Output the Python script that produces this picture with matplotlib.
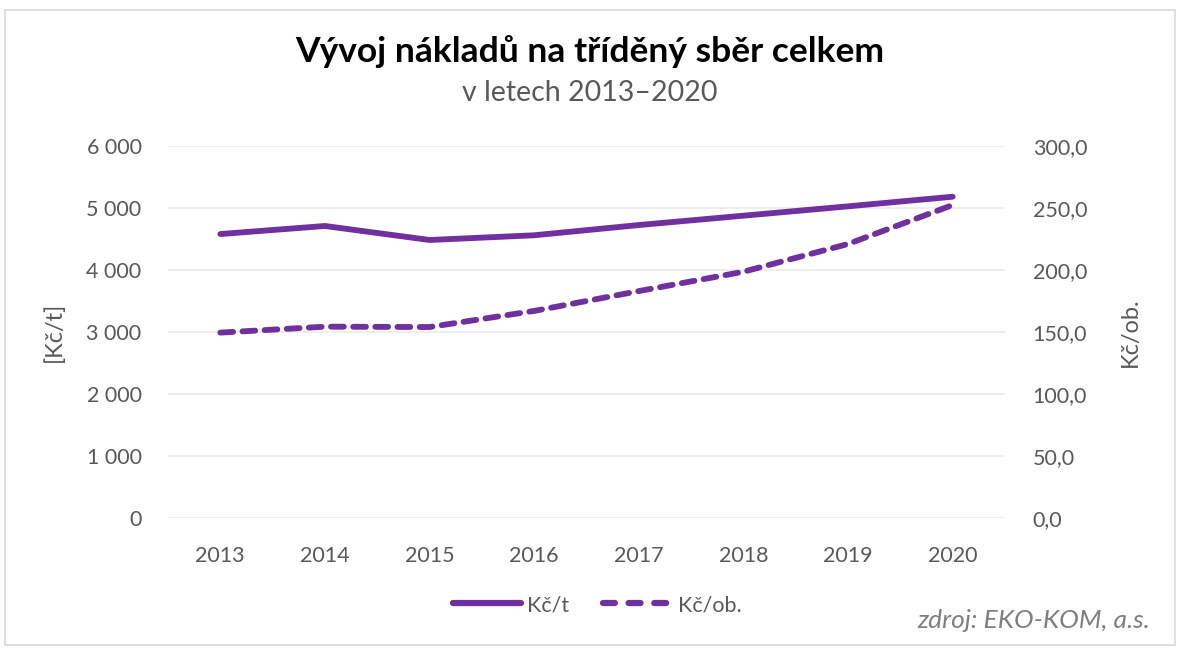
import matplotlib
matplotlib.use("Agg")
import matplotlib.pyplot as plt
from matplotlib.patches import Rectangle
from matplotlib.lines import Line2D
from matplotlib.ticker import FuncFormatter, MultipleLocator

plt.rcParams['font.family'] = ['Lato', 'DejaVu Sans']

years = ['2013', '2014', '2015', '2016', '2017', '2018', '2019', '2020']
kc_per_t = [4580, 4710, 4484, 4560, 4725, 4876, 5027, 5182]
kc_per_ob = [149.5, 154.3, 154.0, 167.0, 183.0, 198.6, 221.0, 252.4]

title = "Vývoj nákladů na tříděný sběr celkem"
subtitle = "v letech 2013–2020"
left_label = "[Kč/t]"
right_label = "Kč/ob."
source = "zdroj: EKO-KOM, a.s."

purple = '#7030A0'
gray = '#595959'

fig = plt.figure(figsize=(11.84, 6.55), dpi=100)
fig.patches.append(Rectangle((5/1184, 1 - 645/655), 1170/1184, 635/655,
                             transform=fig.transFigure, fill=False,
                             edgecolor='#D9D9D9', linewidth=1.2))

ax = fig.add_axes([168/1184, 1 - 518/655, (1005 - 168)/1184, (518 - 146)/655])
ax2 = ax.twinx()
x = list(range(len(years)))

ax.plot(x, kc_per_t, color=purple, linewidth=4.2, solid_capstyle='round',
        solid_joinstyle='round')
ax2.plot(x, kc_per_ob, color=purple, linewidth=4.2, linestyle=(0, (2.2, 1.6)),
         dash_capstyle='round')

ax.set_xlim(-0.5, len(years) - 0.5)
ax.set_ylim(0, 6000)
ax2.set_ylim(0, 300)
ax.yaxis.set_major_locator(MultipleLocator(1000))
ax2.yaxis.set_major_locator(MultipleLocator(50))
ax.yaxis.set_major_formatter(FuncFormatter(lambda v, p: f"{int(v):,}".replace(',', ' ')))
ax2.yaxis.set_major_formatter(FuncFormatter(lambda v, p: f"{v:.1f}".replace('.', ',')))
ax.set_xticks(x)
ax.set_xticklabels(years)

ax.grid(axis='y', color='#EDEDED', linewidth=1.3)
ax.set_axisbelow(True)
for a in (ax, ax2):
    for s in a.spines.values():
        s.set_visible(False)
    a.tick_params(length=0, colors=gray, labelsize=15.5)
ax.tick_params(axis='x', pad=20)
ax.tick_params(axis='y', pad=19)
ax2.tick_params(axis='y', pad=20)

ax.set_ylabel(left_label, color=gray, fontsize=17)
ax2.set_ylabel(right_label, color=gray, fontsize=17)
ax.yaxis.set_label_coords((65 - 168)/837, 0.5)
ax2.yaxis.set_label_coords((1120 - 168)/837, 0.5)

fig.text(590/1184, 1 - 52/655, title, ha='center', va='center',
         fontsize=25.5, fontweight='bold', color='black')
fig.text(590/1184, 1 - 93/655, subtitle, ha='center', va='center',
         fontsize=20.5, color=gray)

handles = [Line2D([], [], color=purple, linewidth=4.5, solid_capstyle='round'),
           Line2D([], [], color=purple, linewidth=4.5, linestyle=(0, (1.9, 2.2)),
                  dash_capstyle='round')]
fig.legend(handles, ['Kč/t', 'Kč/ob.'], loc='center', bbox_to_anchor=(597/1184, 1 - 605/655),
           ncol=2, frameon=False, fontsize=15.5, labelcolor=gray, handlelength=3.2,
           handletextpad=0.25, columnspacing=1.6)

fig.text(1150/1184, 1 - 621/655, source, ha='right', va='center',
         fontsize=19, style='italic', color='#7F7F7F')

fig.savefig('out.png', dpi=100)
